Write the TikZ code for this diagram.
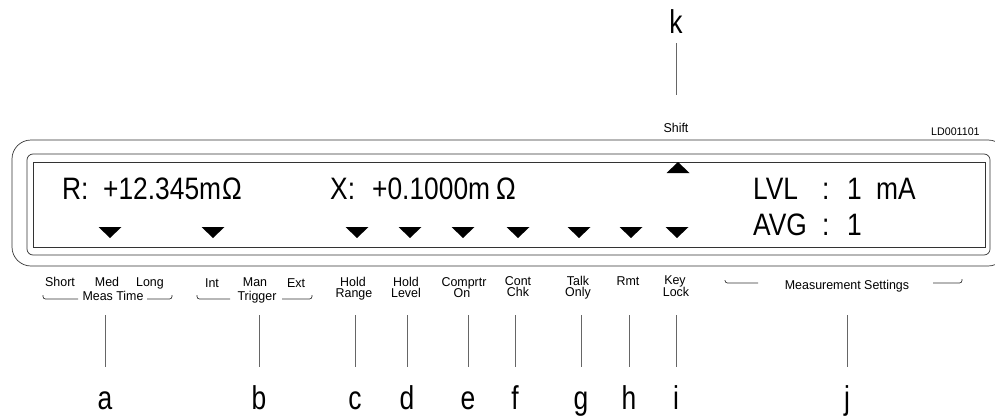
\documentclass[tikz,border=0pt]{standalone}
\usepackage{fontspec}
\setmainfont{Liberation Sans}
\newfontfamily\dispf[FakeStretch=0.85]{Liberation Sans}
\newfontfamily\letf[FakeStretch=0.8]{Liberation Sans}
\newfontfamily\smallf[FakeStretch=0.97]{Liberation Sans}
\tikzset{
  disp/.style={inner sep=0pt, anchor=base west, font=\dispf\fontsize{31}{31}\selectfont},
  lbl/.style={inner sep=0pt, anchor=base, font=\smallf\fontsize{12.8}{12.8}\selectfont},
  tinylbl/.style={inner sep=0pt, anchor=base west, font=\smallf\fontsize{11}{11}\selectfont},
  letter/.style={inner sep=0pt, anchor=base, font=\letf\fontsize{33}{33}\selectfont},
  framebox/.style={draw=black!80, line width=0.7pt},
  leader/.style={draw=black!60, line width=0.6pt},
  brack/.style={draw=black!80, line width=0.7pt, rounded corners=2.5pt},
}
\begin{document}
\begin{tikzpicture}[x=1pt,y=-1pt]
\useasboundingbox (0,0) rectangle (995,415);
\clip (0,0) rectangle (995,415);
% frames
\draw[framebox, rounded corners=19pt] (12,140) rectangle (1007,266);
\draw[framebox, rounded corners=6pt] (27,154) rectangle (990,255);
\draw[framebox] (33,162) rectangle (985,247);
% display text
\node[disp] (r1) at (62,199) {R:};
\node[disp] (r2) at (103,199) {+12.345m};
\node[disp] (r3) at (222,199) {Ω};
\node[disp] (x1) at (330,199) {X:};
\node[disp] (x2) at (372,199) {+0.1000m};
\node[disp] (x3) at (496,199) {Ω};
\node[disp] (l1) at (753,199) {LVL};
\node[disp] (l2) at (822,199) {:};
\node[disp] (l3) at (847,199) {1};
\node[disp] (l4) at (876,199) {mA};
\node[disp] (a1) at (753,235) {AVG};
\node[disp] (a2) at (822,235) {:};
\node[disp] (a3) at (847,235) {1};
% triangles
\foreach \t in {110,213,357,410,463,518,579,631,677}{
  \fill ({\t-11.5},227) -- ({\t+11.5},227) -- (\t,238) -- cycle;
}
\fill (666.5,173) -- (689.5,173) -- (678,162) -- cycle;
% top labels
\node[lbl] (shift) at (676,132) {Shift};
\node[tinylbl] (ld) at (931,135) {LD001101};
% labels under display
\node[lbl] (short) at (60,286) {Short};
\node[lbl] (med) at (107,286) {Med};
\node[lbl] (long) at (150,286) {Long};
\node[lbl] (meas) at (113,300) {Meas Time};
\draw[brack] (43,295) -- (43,299) -- (78,299);
\draw[brack] (147,299) -- (172,299) -- (172,295);
\node[lbl] (int) at (212,287) {Int};
\node[lbl] (man) at (255,286) {Man};
\node[lbl] (ext) at (296,287) {Ext};
\node[lbl] (trig) at (257,300) {Trigger};
\draw[brack] (197,295) -- (197,299) -- (230,299);
\draw[brack] (282,299) -- (312,299) -- (312,295);
\node[lbl] (hr1) at (353,286) {Hold};
\node[lbl] (hr2) at (354,297) {Range};
\node[lbl] (hl1) at (406,286) {Hold};
\node[lbl] (hl2) at (406,297) {Level};
\node[lbl] (co1) at (464,286) {Comprtr};
\node[lbl] (co2) at (462,297) {On};
\node[lbl] (cc1) at (518,285) {Cont};
\node[lbl] (cc2) at (518,296) {Chk};
\node[lbl] (to1) at (578,285) {Talk};
\node[lbl] (to2) at (578,296) {Only};
\node[lbl] (rmt) at (628,285) {Rmt};
\node[lbl] (kl1) at (675,284) {Key};
\node[lbl] (kl2) at (676,296) {Lock};
\node[lbl] (ms) at (847,289) {Measurement Settings};
\draw[brack] (725,280) -- (725,283) -- (758,283);
\draw[brack] (933,283) -- (962,283) -- (962,279);
% leader lines and letters
\foreach \n/\xx in {a/105,b/259,c/355,d/407,e/468,f/515,g/581,h/629,i/676,j/847}{
  \coordinate (t\n) at (\xx,315);
  \coordinate (b\n) at (\xx,367);
  \node[letter] (L\n) at (\xx,409) {\n};
  \draw[leader] (t\n) -- (b\n);
}
\node[letter] (Lk) at (676,33) {k};
\coordinate (tk) at (676,43);
\coordinate (bk) at (676,95);
\draw[leader] (tk) -- (bk);
\end{tikzpicture}
\end{document}
